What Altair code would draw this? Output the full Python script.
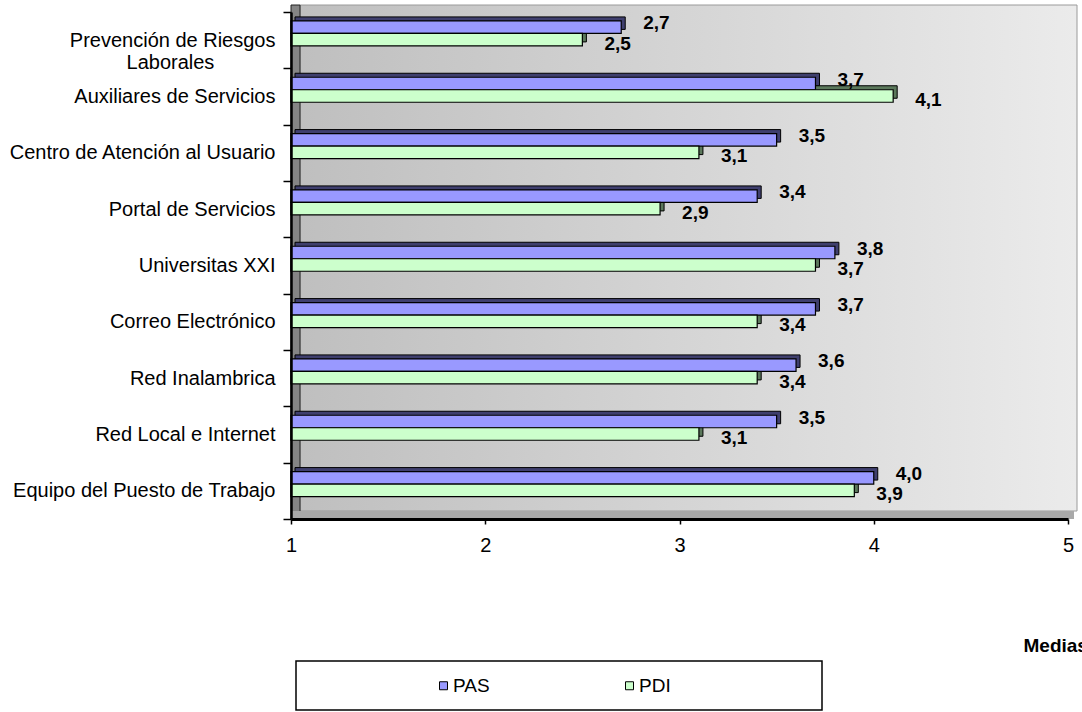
import altair as alt
import pandas as pd

# Valoración media de los servicios, por colectivo
categories = [
    "Prevención de Riesgos Laborales",
    "Auxiliares de Servicios",
    "Centro de Atención al Usuario",
    "Portal de Servicios",
    "Universitas XXI",
    "Correo Electrónico",
    "Red Inalambrica",
    "Red Local e Internet",
    "Equipo del Puesto de Trabajo",
]
pas = [2.7, 3.7, 3.5, 3.4, 3.8, 3.7, 3.6, 3.5, 4.0]
pdi = [2.5, 4.1, 3.1, 2.9, 3.7, 3.4, 3.4, 3.1, 3.9]
series = ["PAS", "PDI"]
x_ticks = [1, 2, 3, 4, 5]

colors = ["#9999ff", "#ccffcc"]
shades = ["#3f3f6e", "#5b785b"]
FONT = "Liberation Sans"
W, H = 777, 507

rows = []
for cat, a, b in zip(categories, pas, pdi):
    rows.append({"categoria": cat, "serie": "PAS", "media": a})
    rows.append({"categoria": cat, "serie": "PDI", "media": b})
df = pd.DataFrame(rows)
df["etiqueta"] = df["media"].map(lambda v: f"{v:.1f}".replace(".", ","))

# the long label is split in two lines; the second one is padded so that it
# sits centred under the first (a trailing zero-width space keeps the padding)
two_line = ("datum.value == 'Prevención de Riesgos Laborales' ? "
            "['Prevención de Riesgos', 'Laborales" + "\u00a0" * 11 + "\u200b'] : datum.label")

y_enc = alt.Y(
    "categoria:N", sort=categories,
    scale=alt.Scale(paddingInner=0, paddingOuter=0),
    axis=alt.Axis(title=None, tickBand="extent", tickSize=8, tickWidth=1.5,
                  tickColor="black", domainColor="black", domainWidth=2.5,
                  labelFont=FONT, labelFontSize=20, labelColor="black",
                  labelPadding=8, labelLineHeight=22, labelExpr=two_line,
                  labelLimit=400, zindex=1),
)
x_enc = alt.X(
    "media:Q",
    scale=alt.Scale(domain=[1, 5], nice=False, zero=False),
    axis=alt.Axis(values=x_ticks, format="d", grid=False, title="Medias",
                  tickSize=5, tickWidth=1.5, tickColor="black",
                  domainColor="black", domainWidth=3,
                  labelFont=FONT, labelFontSize=20, labelColor="black",
                  labelPadding=11, labelFlush=False,
                  titleFont=FONT, titleFontSize=19, titleFontWeight="bold",
                  titleColor="black", titleX=732, titleY=126,
                  titleAlign="left", titleBaseline="middle", zindex=1),
)
x2_enc = alt.X2(datum=1)

color_enc = alt.Color(
    "serie:N",
    scale=alt.Scale(domain=series, range=colors),
    legend=alt.Legend(title=None, orient="none", direction="horizontal",
                      legendX=143, legendY=664, symbolType="square",
                      symbolSize=64, symbolStrokeColor="black",
                      symbolStrokeWidth=1, labelFont=FONT, labelFontSize=19,
                      labelColor="black", labelOffset=0, columnPadding=130,
                      padding=0),
)

one = pd.DataFrame({"k": [0]})

# 3D back wall, side wall and floor of the plot
wall = alt.Chart(one).mark_rect(
    fill=alt.Gradient(gradient="linear", x1=0, x2=1, y1=0, y2=0,
                      stops=[alt.GradientStop(color="#bfbfbf", offset=0),
                             alt.GradientStop(color="#ebebeb", offset=1)]),
    stroke="#9a9a9a", strokeWidth=1,
).encode(x=alt.value(9), x2=alt.value(786), y=alt.value(-7), y2=alt.value(499))

side = alt.Chart(one).mark_rect(fill="#858585", stroke="#222222", strokeWidth=1).encode(
    x=alt.value(0), x2=alt.value(9), y=alt.value(-7), y2=alt.value(H))

floor = alt.Chart(one).mark_rect(fill="#a9a9a9").encode(
    x=alt.value(0), x2=alt.value(783), y=alt.value(499), y2=alt.value(H))

BAR_H = 12.5
PAS_SHIFT = -13
PDI_SHIFT = -0.5
DEPTH = 4


def shadow(serie, shade, shift):
    return alt.Chart(df).transform_filter(f"datum.serie == '{serie}'").mark_bar(
        height=BAR_H, xOffset=DEPTH, x2Offset=DEPTH,
        yOffset=shift - DEPTH, y2Offset=shift - DEPTH,
        stroke="black", strokeWidth=1, color=shade,
    ).encode(x=x_enc, x2=x2_enc, y=y_enc)


def front(serie, shift):
    return alt.Chart(df).transform_filter(f"datum.serie == '{serie}'").mark_bar(
        height=BAR_H, yOffset=shift, y2Offset=shift,
        stroke="black", strokeWidth=1.2,
    ).encode(x=x_enc, x2=x2_enc, y=y_enc, color=color_enc)


def labels(serie, dy):
    return alt.Chart(df).transform_filter(f"datum.serie == '{serie}'").mark_text(
        align="left", baseline="middle", dx=22, dy=dy,
        font=FONT, fontSize=19, fontWeight="bold", color="black",
    ).encode(x=x_enc, y=y_enc, text="etiqueta:N")


legend_box = alt.Chart(one).mark_rect(
    fillOpacity=0, stroke="black", strokeWidth=1.5,
).encode(x=alt.value(5), x2=alt.value(531), y=alt.value(649), y2=alt.value(698))

chart = alt.layer(
    wall, side, floor,
    shadow("PAS", shades[0], PAS_SHIFT),
    shadow("PDI", shades[1], PDI_SHIFT),
    front("PAS", PAS_SHIFT),
    front("PDI", PDI_SHIFT),
    labels("PAS", PAS_SHIFT - 4),
    labels("PDI", PDI_SHIFT + 4),
    legend_box,
).properties(
    width=W, height=H,
    padding={"left": 291, "top": 12, "right": 14, "bottom": 193},
    autosize=alt.AutoSizeParams(type="none"),
    background="white",
).configure_view(stroke="transparent")

chart.save("out.html", embed_options={"renderer": "svg", "actions": False})
